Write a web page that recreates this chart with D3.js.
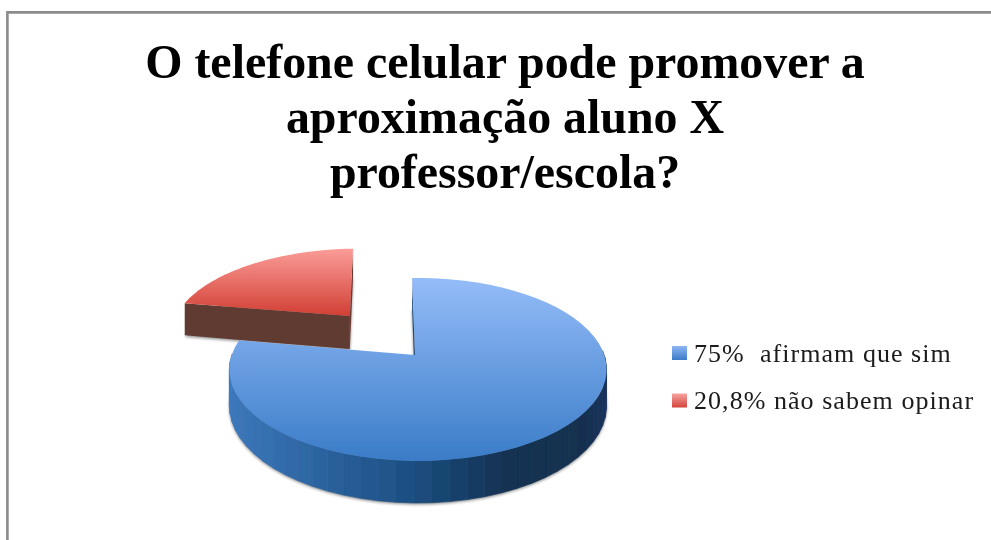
<!DOCTYPE html>
<html><head><meta charset="utf-8">
<script src="https://cdn.jsdelivr.net/npm/d3@7"></script>
<style>html,body{margin:0;padding:0;background:#fff;overflow:hidden}svg{display:block}</style>
</head><body>
<script>
const titleLines = ["O telefone celular pode promover a", "aproximação aluno X", "professor/escola?"];
const categories = ["75%  afirmam que sim", "20,8% não sabem opinar"];
const values = [75, 20.8];

const W = 991, H = 540;
const svg = d3.select("body").append("svg").attr("width", W).attr("height", H);
const defs = svg.append("defs");
const grad = (id, y1, y2, c1, c2, units) => {
  const g = defs.append("linearGradient").attr("id", id).attr("x1", 0).attr("x2", 0);
  if (units) g.attr("gradientUnits", "userSpaceOnUse");
  g.attr("y1", y1).attr("y2", y2);
  g.append("stop").attr("offset", 0).attr("stop-color", c1);
  g.append("stop").attr("offset", 1).attr("stop-color", c2);
};
const blurFilter = (id, sd) => defs.append("filter").attr("id", id)
  .attr("x", "-10%").attr("y", "-10%").attr("width", "120%").attr("height", "120%")
  .append("feGaussianBlur").attr("stdDeviation", sd);
blurFilter("soft", 0.5);
blurFilter("textSoft", 0.4);
blurFilter("shadow", 1.5);

// frame
svg.append("path").attr("d", d3.line()([[7.4, H], [7.4, 12.4], [W, 12.4]]))
  .attr("fill", "none").attr("stroke", "#8c8c8c").attr("stroke-width", 2.6);

// title
svg.append("g").attr("filter", "url(#textSoft)").selectAll("text").data(titleLines).join("text")
  .attr("x", 505).attr("y", (d, i) => 77.5 + i * 55)
  .attr("text-anchor", "middle").attr("font-family", "Liberation Serif").attr("font-weight", "bold")
  .attr("font-size", 47.9).attr("fill", "#000").text(d => d);

// perspective pie
const centre = [418, 355], RX = 186.3, RY = 89.2, P = 0.158, DEPTH = 35.4;
const BLUE_HUB = [-0.016, 0], RED_SHIFT = [-0.393, 0.47];
const startDeg = -2.1;
const pie = d3.pie().sort(null).startAngle(startDeg * Math.PI / 180).endAngle((startDeg + 360) * Math.PI / 180);
const slices = pie(values);
const project = (u, v, lower) => {
  const w = 1 + P * v;
  return [centre[0] + RX * u / w, centre[1] - RY * v / w + (lower ? DEPTH / w : 0)];
};
const line = d3.line();
const point = (a, off, lower) => project(off[0] + Math.sin(a), off[1] + Math.cos(a), lower);
const angles = s => d3.range(0, 61).map(i => s.startAngle + (s.endAngle - s.startAngle) * i / 60);
const offsets = [[0, 0], RED_SHIFT];
const hubs = [BLUE_HUB, RED_SHIFT];
const hub = (i, lower) => project(hubs[i][0], hubs[i][1], lower);
const face = (s, i, lower) => [hub(i, lower), ...angles(s).map(a => point(a, offsets[i], lower))];

grad("blueTop", 278, 461, "#94bcf8", "#3a7cc8", true);
grad("redTop", 248, 320, "#fb9d99", "#cf3a2e", true);
grad("blueKey", 0, 1, "#8db6f2", "#3b7cc8");
grad("redKey", 0, 1, "#f7a3a0", "#d2443a");

const pieG = svg.append("g").attr("filter", "url(#soft)");

// shadows
const shadowG = pieG.append("g").attr("filter", "url(#shadow)").attr("fill", "#000").attr("opacity", 0.45);
slices.forEach((s, i) => {
  shadowG.append("path").attr("d", line(face(s, i, true).map(p => [p[0], p[1] + 1.5])) + "Z");
});

// red slice
const red = slices[1], redOff = offsets[1];
pieG.append("path").attr("fill", "#6b3a33")
  .attr("d", line([hub(1), point(red.endAngle, redOff), point(red.endAngle, redOff, true), hub(1, true)]) + "Z");
pieG.append("path").attr("fill", "#613a33")
  .attr("d", line([point(red.startAngle, redOff), hub(1), hub(1, true), point(red.startAngle, redOff, true)]) + "Z");
pieG.append("path").attr("fill", "url(#redTop)").attr("d", line(face(red, 1)) + "Z");

// blue slice
const blue = slices[0], blueOff = offsets[0], bluePts = angles(blue);
pieG.append("path").attr("fill", "#1f4a7c")
  .attr("d", line([hub(0), point(blue.startAngle, blueOff), point(blue.startAngle, blueOff, true), hub(0, true)]) + "Z");
const sideColor = d3.scaleLinear()
  .domain([-1, -0.5, 0, 0.45, 0.85, 1])
  .range(["#3f7abf", "#2f68a6", "#1d4f82", "#123252", "#132f50", "#1c3460"])
  .clamp(true);
pieG.append("g").selectAll("path")
  .data(d3.range(bluePts.length - 1).filter(i => Math.cos(bluePts[i]) < 0.05 && Math.cos(bluePts[i + 1]) < 0.05))
  .join("path")
  .attr("d", i => line([point(bluePts[i], blueOff), point(bluePts[i + 1], blueOff), point(bluePts[i + 1], blueOff, true), point(bluePts[i], blueOff, true)]) + "Z")
  .attr("fill", i => sideColor(Math.sin(bluePts[i])))
  .attr("stroke", i => sideColor(Math.sin(bluePts[i]))).attr("stroke-width", 0.6);
pieG.append("path").attr("fill", "url(#blueTop)").attr("d", line(face(blue, 0)) + "Z");

// legend
const legend = svg.append("g").selectAll("g").data(categories).join("g")
  .attr("transform", (d, i) => `translate(672,${346 + i * 47.5})`);
legend.append("rect").attr("width", 15).attr("height", 14)
  .attr("fill", (d, i) => i === 0 ? "url(#blueKey)" : "url(#redKey)");
legend.append("text").attr("x", 22).attr("y", 15.5)
  .attr("filter", "url(#textSoft)")
  .style("white-space", "pre").style("letter-spacing", "1.05px")
  .attr("font-family", "Liberation Serif").attr("font-size", 26).attr("fill", "#1a1a1a").text(d => d);
</script>
</body></html>
